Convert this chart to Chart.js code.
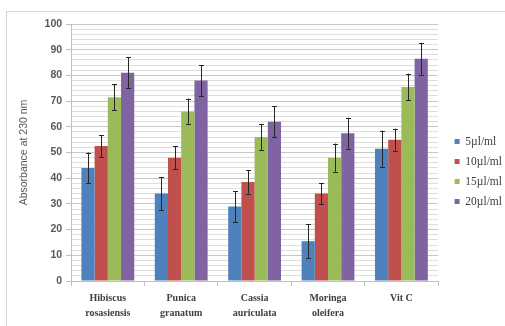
<!DOCTYPE html>
<html>
<head>
<meta charset="utf-8">
<script src="https://cdn.jsdelivr.net/npm/chart.js@4.4.1/dist/chart.umd.min.js"></script>
<style>
  html, body { margin: 0; padding: 0; background: #fff; overflow: hidden; }
  #wrap { position: relative; width: 505px; height: 326px; }
  #frame { position: absolute; left: 6px; top: 11px; width: 600px; height: 400px; border: 1px solid #d4d4d4; box-sizing: border-box; }
  #c { position: absolute; left: 0; top: 0; }
</style>
</head>
<body>
<div id="wrap">
  <div id="frame"></div>
  <canvas id="c" width="505" height="326"></canvas>
</div>
<script>
// Extracts tested, absorbance at 230 nm by dose
const categories = [['Hibiscus', 'rosasiensis'], ['Punica', 'granatum'], ['Cassia', 'auriculata'], ['Moringa', 'oleifera'], 'Vit C'];
const seriesNames = ['5µl/ml', '10µl/ml', '15µl/ml', '20µl/ml'];

const dose5 = [44, 34, 29, 15.5, 51.5];
const dose10 = [52.5, 48, 38.5, 34, 55];
const dose15 = [71.5, 66, 56, 48, 75.5];
const dose20 = [81, 78, 62, 57.5, 86.5];

// standard deviation (±) for each bar
const err5 = [6, 6.5, 6, 6.5, 7];
const err10 = [4.2, 4.5, 4.5, 4.2, 4.3];
const err15 = [5, 5, 5, 5.5, 5.2];
const err20 = [6, 6, 6, 6, 6.2];

const colors = ['#4f81bd', '#c0504d', '#9bbb59', '#8064a2'];
const values = [dose5, dose10, dose15, dose20];
const errors = [err5, err10, err15, err20];

// draws ± error bars on top of every bar
const errorBars = {
  id: 'errorBars',
  afterDatasetsDraw(chart) {
    const ctx = chart.ctx;
    const y = chart.scales.y;
    ctx.save();
    ctx.strokeStyle = '#262626';
    ctx.lineWidth = 1;
    chart.data.datasets.forEach((ds, i) => {
      const meta = chart.getDatasetMeta(i);
      meta.data.forEach((bar, j) => {
        const v = ds.data[j], e = ds.errors[j];
        const top = y.getPixelForValue(v + e);
        const bot = y.getPixelForValue(v - e);
        const x = Math.round(bar.x) + 0.5;
        ctx.beginPath();
        ctx.moveTo(x, top); ctx.lineTo(x, bot);
        ctx.moveTo(x - 2.5, Math.round(top) + 0.5); ctx.lineTo(x + 2.5, Math.round(top) + 0.5);
        ctx.moveTo(x - 2.5, Math.round(bot) + 0.5); ctx.lineTo(x + 2.5, Math.round(bot) + 0.5);
        ctx.stroke();
      });
    });
    ctx.restore();
  }
};

// empty spacer axes: keep a gap above the plot and between plot and legend
const spacer = (size, horizontal) => ({
  type: 'linear',
  display: true,
  grid: { display: false },
  border: { display: false },
  ticks: { display: false },
  afterFit: (s) => { if (horizontal) { s.height = size; } else { s.width = size; } }
});

new Chart(document.getElementById('c'), {
  type: 'bar',
  data: {
    labels: categories,
    datasets: seriesNames.map((name, i) => ({
      label: name,
      data: values[i],
      errors: errors[i],
      backgroundColor: colors[i],
      borderWidth: 0,
      categoryPercentage: 0.72,
      barPercentage: 1.0
    }))
  },
  options: {
    responsive: false,
    animation: false,
    layout: { padding: { left: 14, top: 17, right: -7, bottom: 0 } },
    plugins: {
      legend: {
        position: 'right',
        labels: {
          boxWidth: 5,
          boxHeight: 5,
          padding: 8.5,
          color: '#404040',
          font: { family: 'Liberation Serif', size: 11.5 }
        }
      },
      tooltip: { enabled: false }
    },
    scales: {
      x: {
        grid: {
          display: true,
          drawOnChartArea: false,
          drawTicks: true,
          tickLength: 5,
          offset: true,
          color: '#bfbfbf'
        },
        border: { color: '#bfbfbf' },
        ticks: {
          padding: 5,
          color: '#404040',
          maxRotation: 0,
          font: { family: 'Liberation Serif', size: 10, weight: 'bold', lineHeight: 1.5 }
        }
      },
      y: {
        min: 0,
        max: 100,
        ticks: {
          stepSize: 2,
          autoSkip: false,
          padding: 4,
          color: '#595959',
          font: { family: 'Liberation Sans', size: 10.5, weight: 'bold' },
          callback: (v) => (v % 10 === 0 ? v : '')
        },
        grid: {
          color: (c) => (c.tick && c.tick.value % 10 === 0 ? '#c6c6c6' : '#dedede'),
          tickColor: (c) => (c.tick && c.tick.value % 10 === 0 ? '#bfbfbf' : 'rgba(0,0,0,0)'),
          tickLength: 5
        },
        border: { color: '#bfbfbf' },
        title: {
          display: true,
          text: 'Absorbance at 230 nm',
          color: '#595959',
          padding: { top: 4, bottom: 10 },
          font: { family: 'Liberation Sans', size: 10.5 }
        }
      },
      gapTop: Object.assign(spacer(7, true), { position: 'top' }),
      gapRight: Object.assign(spacer(8, false), { position: 'right' })
    }
  },
  plugins: [errorBars]
});
</script>
</body>
</html>
